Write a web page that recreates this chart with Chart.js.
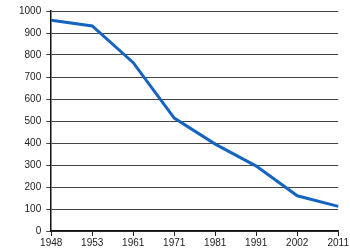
<!DOCTYPE html>
<html><head><meta charset="utf-8">
<script src="https://cdn.jsdelivr.net/npm/chart.js@4"></script>
<style>html,body{margin:0;padding:0;background:#fff}#w{width:350px;height:250px}</style>
</head><body><div id="w"><canvas id="c"></canvas></div>
<script>
const years = ["1948","1953","1961","1971","1981","1991","2002","2011"];
const values = [958, 932, 765, 513, 395, 295, 160, 112];
const yTicks = [0,100,200,300,400,500,600,700,800,900,1000];

new Chart(document.getElementById('c'), {
  type: 'line',
  data: { labels: years, datasets: [{ data: values, borderColor: '#1565c0', borderWidth: 3, pointRadius: 0, tension: 0, fill: false }] },
  options: {
    responsive: true, maintainAspectRatio: false, animation: false,
    layout: { padding: { top: 4, right: 8, left: 14, bottom: 0 } },
    plugins: { legend: { display: false }, tooltip: { enabled: false } },
    scales: {
      x: {
        offset: false,
        grid: { display: true, drawOnChartArea: false, drawTicks: true, tickLength: 5, color: '#222' },
        border: { color: '#111', width: 1.5 },
        ticks: { color: '#222', font: { family: 'Liberation Sans', size: 10 }, padding: 1, maxRotation: 0, autoSkip: false }
      },
      y: {
        min: 0, max: 1000,
        afterBuildTicks: (ax) => { ax.ticks = yTicks.map(v => ({ value: v })); },
        grid: { color: '#444', lineWidth: 1, tickLength: 5 },
        border: { color: '#111', width: 1.5 },
        ticks: { color: '#222', font: { family: 'Liberation Sans', size: 10 }, padding: 5, callback: (v) => String(v) }
      }
    }
  }
});
</script></body></html>
